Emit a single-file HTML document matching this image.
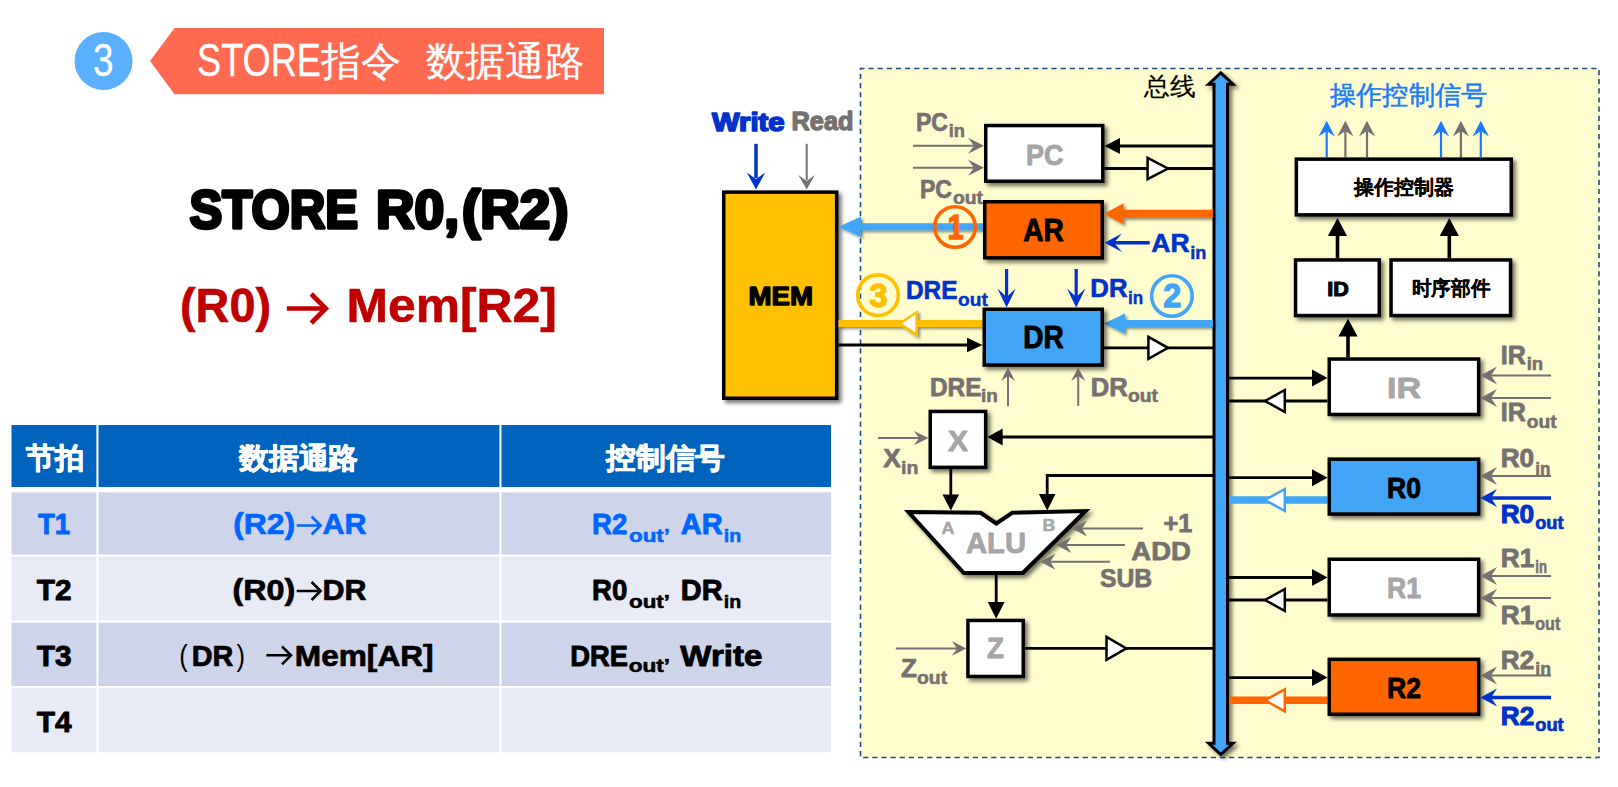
<!DOCTYPE html><html><head><meta charset="utf-8"><style>html,body{margin:0;padding:0;background:#fff;width:1618px;height:787px;overflow:hidden}svg{display:block}text{font-family:'Liberation Sans', sans-serif}</style></head><body>
<svg width="1618" height="787" viewBox="0 0 1618 787">
<defs><filter id="sh" x="-20%" y="-20%" width="150%" height="150%"><feDropShadow dx="3" dy="3" stdDeviation="2" flood-color="#000" flood-opacity="0.55"/></filter><filter id="sh2" x="-20%" y="-50%" width="150%" height="250%"><feDropShadow dx="2" dy="2" stdDeviation="1.5" flood-color="#000" flood-opacity="0.45"/></filter></defs>
<circle cx="103.5" cy="61" r="29" fill="#5AAFFF"/>
<text x="103.3" y="76.2" font-size="47" font-weight="normal" fill="#fff" text-anchor="middle" textLength="20.5" lengthAdjust="spacingAndGlyphs" stroke="#fff" stroke-width="0.3" stroke-linejoin="round" >3</text>
<polygon points="150.00,61.00 174.50,28.00 604.00,28.00 604.00,94.30 174.50,94.30" fill="#FF6A50" stroke="none" stroke-width="0" stroke-linejoin="miter" />
<text x="197" y="75.7" font-size="46.5" font-weight="normal" fill="#fff" text-anchor="start" textLength="124" lengthAdjust="spacingAndGlyphs" stroke="#fff" stroke-width="0.3" stroke-linejoin="round" >STORE</text>
<text x="321" y="74.6" font-size="40" font-weight="normal" fill="#fff" text-anchor="start" textLength="80" lengthAdjust="spacingAndGlyphs" stroke="#fff" stroke-width="0.25" stroke-linejoin="round" >指令</text>
<text x="425.7" y="74.6" font-size="40" font-weight="normal" fill="#fff" text-anchor="start" textLength="158.5" lengthAdjust="spacingAndGlyphs" stroke="#fff" stroke-width="0.25" stroke-linejoin="round" >数据通路</text>
<text x="189.5" y="228.4" font-size="53" font-weight="bold" fill="#000" text-anchor="start" textLength="168.5" lengthAdjust="spacingAndGlyphs" stroke="#000" stroke-width="3.4" stroke-linejoin="round" >STORE</text>
<text x="376" y="228.4" font-size="53" font-weight="bold" fill="#000" text-anchor="start" textLength="83" lengthAdjust="spacingAndGlyphs" stroke="#000" stroke-width="3.4" stroke-linejoin="round" >R0,</text>
<text x="462" y="228.4" font-size="53" font-weight="bold" fill="#000" text-anchor="start" textLength="106.5" lengthAdjust="spacingAndGlyphs" stroke="#000" stroke-width="3.4" stroke-linejoin="round" >(R2)</text>
<text x="180" y="321.9" font-size="48" font-weight="bold" fill="#C00000" text-anchor="start" textLength="91" lengthAdjust="spacingAndGlyphs" stroke="#C00000" stroke-width="0.6" stroke-linejoin="round" >(R0)</text>
<path d="M286.8,308.5 L323.04,308.5 M311.3,294.0 L325.8,308.5 L311.3,323.0" fill="none" stroke="#C00000" stroke-width="4.6" stroke-linejoin="miter" stroke-miterlimit="10"/>
<text x="346.5" y="321.9" font-size="48" font-weight="bold" fill="#C00000" text-anchor="start" textLength="210.3" lengthAdjust="spacingAndGlyphs" stroke="#C00000" stroke-width="0.6" stroke-linejoin="round" >Mem[R2]</text>
<rect x="11.5" y="425" width="819.5" height="62.0" fill="#0064BE"/>
<rect x="11.5" y="492.3" width="819.5" height="62.3" fill="#CED4EA"/>
<rect x="11.5" y="556.6" width="819.5" height="64.0" fill="#E8EAF5"/>
<rect x="11.5" y="622.6" width="819.5" height="63.4" fill="#CED4EA"/>
<rect x="11.5" y="688" width="819.5" height="64.3" fill="#E8EAF5"/>
<rect x="96.4" y="424" width="2.1" height="330" fill="#fff"/>
<rect x="499.4" y="424" width="2.1" height="330" fill="#fff"/>
<text x="25.8" y="468.3" font-size="29" font-weight="bold" fill="#fff" text-anchor="start" textLength="58" lengthAdjust="spacingAndGlyphs" stroke="#fff" stroke-width="0.87" stroke-linejoin="round" >节拍</text>
<text x="238.8" y="468.3" font-size="29" font-weight="bold" fill="#fff" text-anchor="start" textLength="119.5" lengthAdjust="spacingAndGlyphs" stroke="#fff" stroke-width="0.87" stroke-linejoin="round" >数据通路</text>
<text x="606.2" y="468.3" font-size="29" font-weight="bold" fill="#fff" text-anchor="start" textLength="118.7" lengthAdjust="spacingAndGlyphs" stroke="#fff" stroke-width="0.87" stroke-linejoin="round" >控制信号</text>
<text x="38" y="534.4" font-size="29.6" font-weight="bold" fill="#0066FF" text-anchor="start" textLength="32.2" lengthAdjust="spacingAndGlyphs" stroke="#0066FF" stroke-width="0.888" stroke-linejoin="round" >T1</text>
<text x="233.2" y="534.4" font-size="29.6" font-weight="bold" fill="#0066FF" text-anchor="start" textLength="62" lengthAdjust="spacingAndGlyphs" stroke="#0066FF" stroke-width="0.7" stroke-linejoin="round" >(R2)</text>
<path d="M296.7,525.5 L319.04,525.5 M311.6,516.5 L320.6,525.5 L311.6,534.5" fill="none" stroke="#0066FF" stroke-width="2.6" stroke-linejoin="miter" stroke-miterlimit="10"/>
<text x="322.5" y="534.4" font-size="29.6" font-weight="bold" fill="#0066FF" text-anchor="start" textLength="44" lengthAdjust="spacingAndGlyphs" stroke="#0066FF" stroke-width="0.7" stroke-linejoin="round" >AR</text>
<text x="592" y="533.9" font-size="29.6" font-weight="bold" fill="#0066FF" text-anchor="start" textLength="35.3" lengthAdjust="spacingAndGlyphs" stroke="#0066FF" stroke-width="0.888" stroke-linejoin="round" >R2</text>
<text x="629" y="541.7" font-size="19" font-weight="bold" fill="#0066FF" text-anchor="start" textLength="41" lengthAdjust="spacingAndGlyphs" stroke="#0066FF" stroke-width="0.57" stroke-linejoin="round" >out’</text>
<text x="680.7" y="533.9" font-size="29.6" font-weight="bold" fill="#0066FF" text-anchor="start" textLength="41.9" lengthAdjust="spacingAndGlyphs" stroke="#0066FF" stroke-width="0.888" stroke-linejoin="round" >AR</text>
<text x="723.7" y="541.7" font-size="19" font-weight="bold" fill="#0066FF" text-anchor="start" textLength="17.4" lengthAdjust="spacingAndGlyphs" stroke="#0066FF" stroke-width="0.57" stroke-linejoin="round" >in</text>
<text x="36.7" y="600" font-size="29.6" font-weight="bold" fill="#000" text-anchor="start" textLength="34.8" lengthAdjust="spacingAndGlyphs" stroke="#000" stroke-width="0.888" stroke-linejoin="round" >T2</text>
<text x="232.4" y="600" font-size="29.6" font-weight="bold" fill="#000" text-anchor="start" textLength="62.8" lengthAdjust="spacingAndGlyphs" stroke="#000" stroke-width="0.7" stroke-linejoin="round" >(R0)</text>
<path d="M296.7,591 L319.04,591 M311.6,582 L320.6,591 L311.6,600" fill="none" stroke="#000" stroke-width="2.6" stroke-linejoin="miter" stroke-miterlimit="10"/>
<text x="322.5" y="600" font-size="29.6" font-weight="bold" fill="#000" text-anchor="start" textLength="44" lengthAdjust="spacingAndGlyphs" stroke="#000" stroke-width="0.7" stroke-linejoin="round" >DR</text>
<text x="592" y="600" font-size="29.6" font-weight="bold" fill="#000" text-anchor="start" textLength="35.3" lengthAdjust="spacingAndGlyphs" stroke="#000" stroke-width="0.888" stroke-linejoin="round" >R0</text>
<text x="629" y="607.5" font-size="19" font-weight="bold" fill="#000" text-anchor="start" textLength="41" lengthAdjust="spacingAndGlyphs" stroke="#000" stroke-width="0.57" stroke-linejoin="round" >out’</text>
<text x="680.7" y="600" font-size="29.6" font-weight="bold" fill="#000" text-anchor="start" textLength="41.9" lengthAdjust="spacingAndGlyphs" stroke="#000" stroke-width="0.888" stroke-linejoin="round" >DR</text>
<text x="723.7" y="607.5" font-size="19" font-weight="bold" fill="#000" text-anchor="start" textLength="17.4" lengthAdjust="spacingAndGlyphs" stroke="#000" stroke-width="0.57" stroke-linejoin="round" >in</text>
<text x="36.7" y="666.2" font-size="29.6" font-weight="bold" fill="#000" text-anchor="start" textLength="34.9" lengthAdjust="spacingAndGlyphs" stroke="#000" stroke-width="0.888" stroke-linejoin="round" >T3</text>
<text x="179.3" y="666" font-size="29.6" font-weight="normal" fill="#000" text-anchor="start" textLength="8.5" lengthAdjust="spacingAndGlyphs" >(</text>
<text x="191.7" y="665.9" font-size="29.6" font-weight="bold" fill="#000" text-anchor="start" textLength="41.7" lengthAdjust="spacingAndGlyphs" stroke="#000" stroke-width="0.7" stroke-linejoin="round" >DR</text>
<text x="236.5" y="666" font-size="29.6" font-weight="normal" fill="#000" text-anchor="start" textLength="8.5" lengthAdjust="spacingAndGlyphs" >)</text>
<path d="M266.4,655.3 L289.44,655.3 M282,646.3 L291,655.3 L282,664.3" fill="none" stroke="#000" stroke-width="2.6" stroke-linejoin="miter" stroke-miterlimit="10"/>
<text x="294.8" y="665.9" font-size="29.6" font-weight="bold" fill="#000" text-anchor="start" textLength="138.8" lengthAdjust="spacingAndGlyphs" stroke="#000" stroke-width="0.7" stroke-linejoin="round" >Mem[AR]</text>
<text x="570.2" y="666" font-size="29.6" font-weight="bold" fill="#000" text-anchor="start" textLength="57.8" lengthAdjust="spacingAndGlyphs" stroke="#000" stroke-width="0.888" stroke-linejoin="round" >DRE</text>
<text x="628.7" y="672.1" font-size="19" font-weight="bold" fill="#000" text-anchor="start" textLength="41.4" lengthAdjust="spacingAndGlyphs" stroke="#000" stroke-width="0.57" stroke-linejoin="round" >out’</text>
<text x="680.3" y="666" font-size="29.6" font-weight="bold" fill="#000" text-anchor="start" textLength="82" lengthAdjust="spacingAndGlyphs" stroke="#000" stroke-width="0.888" stroke-linejoin="round" >Write</text>
<text x="36.7" y="732" font-size="29.6" font-weight="bold" fill="#000" text-anchor="start" textLength="34.9" lengthAdjust="spacingAndGlyphs" stroke="#000" stroke-width="0.888" stroke-linejoin="round" >T4</text>
<rect x="860.5" y="68.5" width="738.5" height="689" fill="#FFFDCD" stroke="#1F4E79" stroke-width="1.6" stroke-dasharray="5.2 3.95" stroke-dashoffset="1.2"/>
<rect x="723.75" y="192.15" width="112.90" height="206.10" fill="#FFC000" stroke="#000" stroke-width="3.5" filter="url(#sh)"/>
<text x="748.5" y="304.5" font-size="26.5" font-weight="bold" fill="#000" text-anchor="start" textLength="64.5" lengthAdjust="spacingAndGlyphs" stroke="#000" stroke-width="1.4" stroke-linejoin="round" >MEM</text>
<text x="712" y="131.3" font-size="26" font-weight="bold" fill="#0033CC" text-anchor="start" textLength="72.5" lengthAdjust="spacingAndGlyphs" stroke="#0033CC" stroke-width="1.7" stroke-linejoin="round" >Write</text>
<text x="791.5" y="130" font-size="26" font-weight="bold" fill="#767171" text-anchor="start" textLength="62" lengthAdjust="spacingAndGlyphs" stroke="#767171" stroke-width="1.3" stroke-linejoin="round" >Read</text>
<line x1="756" y1="143.8" x2="756" y2="178" stroke="#0033CC" stroke-width="3.5" />
<polygon points="756.00,189.60 746.80,172.60 756.00,179.00 765.20,172.60" fill="#0033CC" stroke="none" stroke-width="0" stroke-linejoin="miter" />
<line x1="806.7" y1="143.8" x2="806.7" y2="180" stroke="#767171" stroke-width="2" />
<polygon points="806.70,189.60 798.40,175.00 806.70,181.00 815.00,175.00" fill="#767171" stroke="none" stroke-width="0" stroke-linejoin="miter" />
<polygon points="1220.80,72.80 1233.00,84.20 1227.50,84.20 1227.50,743.30 1233.00,743.30 1220.80,754.50 1208.60,743.30 1214.00,743.30 1214.00,84.20 1208.60,84.20" fill="#42A5F5" stroke="#000" stroke-width="3" stroke-linejoin="miter" filter="url(#sh)"/>
<text x="1144" y="95" font-size="25" font-weight="normal" fill="#000" text-anchor="start" textLength="51.5" lengthAdjust="spacingAndGlyphs" stroke="#000" stroke-width="0.2" stroke-linejoin="round" >总线</text>
<rect x="985.75" y="125.55" width="117.00" height="55.70" fill="#fff" stroke="#000" stroke-width="3.5" filter="url(#sh)"/>
<text x="1026" y="165" font-size="29" font-weight="bold" fill="#A6A6A6" text-anchor="start" textLength="37.6" lengthAdjust="spacingAndGlyphs" stroke="#A6A6A6" stroke-width="0.87" stroke-linejoin="round" >PC</text>
<line x1="1120" y1="146" x2="1213" y2="146" stroke="#000" stroke-width="2.8" />
<polygon points="1104.50,146.00 1120.00,138.00 1120.00,154.00" fill="#000" stroke="none" stroke-width="0" stroke-linejoin="miter" />
<line x1="1104.5" y1="168.5" x2="1213" y2="168.5" stroke="#000" stroke-width="2.8" />
<polygon points="1147.60,157.80 1168.00,168.50 1147.60,179.20" fill="#fff" stroke="#000" stroke-width="2.5" stroke-linejoin="miter" />
<line x1="913" y1="145.7" x2="980" y2="145.7" stroke="#767171" stroke-width="2" />
<polygon points="984.00,145.70 968.00,137.70 974.00,145.70 968.00,153.70" fill="#767171" stroke="none" stroke-width="0" stroke-linejoin="miter" />
<line x1="913" y1="167.7" x2="980" y2="167.7" stroke="#767171" stroke-width="2" />
<polygon points="984.00,167.70 968.00,159.70 974.00,167.70 968.00,175.70" fill="#767171" stroke="none" stroke-width="0" stroke-linejoin="miter" />
<text x="915.9" y="130.5" font-size="25" font-weight="bold" fill="#767171" text-anchor="start" textLength="32" lengthAdjust="spacingAndGlyphs" stroke="#767171" stroke-width="0.75" stroke-linejoin="round" >PC</text>
<text x="948.8" y="137.2" font-size="18" font-weight="bold" fill="#767171" text-anchor="start" textLength="16.2" lengthAdjust="spacingAndGlyphs" stroke="#767171" stroke-width="0.54" stroke-linejoin="round" >in</text>
<text x="920" y="197.6" font-size="25" font-weight="bold" fill="#767171" text-anchor="start" textLength="32" lengthAdjust="spacingAndGlyphs" stroke="#767171" stroke-width="0.75" stroke-linejoin="round" >PC</text>
<text x="953" y="203.7" font-size="18" font-weight="bold" fill="#767171" text-anchor="start" textLength="30" lengthAdjust="spacingAndGlyphs" stroke="#767171" stroke-width="0.54" stroke-linejoin="round" >out</text>
<g filter="url(#sh2)">
<line x1="861" y1="226.7" x2="983" y2="226.7" stroke="#42A5F5" stroke-width="7" />
<polygon points="838.50,226.70 861.00,216.50 861.00,236.90" fill="#42A5F5" stroke="none" stroke-width="0" stroke-linejoin="miter" />
</g>
<rect x="984.75" y="201.75" width="117.50" height="56.10" fill="#FF6600" stroke="#000" stroke-width="3.5" filter="url(#sh)"/>
<text x="1043.6" y="241" font-size="30.5" font-weight="bold" fill="#000" text-anchor="middle" textLength="40.5" lengthAdjust="spacingAndGlyphs" stroke="#000" stroke-width="0.9149999999999999" stroke-linejoin="round" >AR</text>
<g filter="url(#sh2)">
<line x1="1123" y1="213.8" x2="1213" y2="213.8" stroke="#FF6600" stroke-width="8" />
<polygon points="1104.00,213.80 1123.60,203.20 1123.60,224.40" fill="#FF6600" stroke="none" stroke-width="0" stroke-linejoin="miter" />
</g>
<circle cx="955" cy="227" r="20.3" fill="none" stroke="#FF6600" stroke-width="3.6"/>
<text x="955.5" y="238.6" font-size="35" font-weight="bold" fill="#FF6600" text-anchor="middle" textLength="16" lengthAdjust="spacingAndGlyphs" stroke="#FF6600" stroke-width="1.3" stroke-linejoin="round" >1</text>
<line x1="1112" y1="242.8" x2="1149.7" y2="242.8" stroke="#0033CC" stroke-width="3.5" />
<polygon points="1104.60,242.80 1122.00,233.60 1114.00,242.80 1122.00,252.00" fill="#0033CC" stroke="none" stroke-width="0" stroke-linejoin="miter" />
<text x="1151.3" y="252" font-size="25" font-weight="bold" fill="#0033CC" text-anchor="start" textLength="38.3" lengthAdjust="spacingAndGlyphs" stroke="#0033CC" stroke-width="0.6" stroke-linejoin="round" >AR</text>
<text x="1190.2" y="258.7" font-size="18" font-weight="bold" fill="#0033CC" text-anchor="start" textLength="16.2" lengthAdjust="spacingAndGlyphs" stroke="#0033CC" stroke-width="0.4" stroke-linejoin="round" >in</text>
<line x1="1006.6" y1="269" x2="1006.6" y2="300" stroke="#0033CC" stroke-width="3.2" />
<polygon points="1006.60,307.50 997.40,288.50 1006.60,297.00 1015.80,288.50" fill="#0033CC" stroke="none" stroke-width="0" stroke-linejoin="miter" />
<line x1="1076.2" y1="269" x2="1076.2" y2="300" stroke="#0033CC" stroke-width="3.2" />
<polygon points="1076.20,307.50 1067.00,288.50 1076.20,297.00 1085.40,288.50" fill="#0033CC" stroke="none" stroke-width="0" stroke-linejoin="miter" />
<text x="905.9" y="298.7" font-size="25" font-weight="bold" fill="#0033CC" text-anchor="start" textLength="51.6" lengthAdjust="spacingAndGlyphs" stroke="#0033CC" stroke-width="0.6" stroke-linejoin="round" >DRE</text>
<text x="958.1" y="305.5" font-size="18" font-weight="bold" fill="#0033CC" text-anchor="start" textLength="29.7" lengthAdjust="spacingAndGlyphs" stroke="#0033CC" stroke-width="0.4" stroke-linejoin="round" >out</text>
<text x="1090.3" y="297.4" font-size="25" font-weight="bold" fill="#0033CC" text-anchor="start" textLength="37.2" lengthAdjust="spacingAndGlyphs" stroke="#0033CC" stroke-width="0.6" stroke-linejoin="round" >DR</text>
<text x="1128" y="303.6" font-size="18" font-weight="bold" fill="#0033CC" text-anchor="start" textLength="15.2" lengthAdjust="spacingAndGlyphs" stroke="#0033CC" stroke-width="0.4" stroke-linejoin="round" >in</text>
<circle cx="878" cy="295.2" r="20.3" fill="none" stroke="#FFC000" stroke-width="3.6"/>
<text x="878.5" y="306.8" font-size="34" font-weight="bold" fill="#FFC000" text-anchor="middle" textLength="18" lengthAdjust="spacingAndGlyphs" stroke="#FFC000" stroke-width="1.3" stroke-linejoin="round" >3</text>
<circle cx="1171.9" cy="296" r="20.3" fill="none" stroke="#42A5F5" stroke-width="3.6"/>
<text x="1172.3" y="307" font-size="34" font-weight="bold" fill="#42A5F5" text-anchor="middle" textLength="18" lengthAdjust="spacingAndGlyphs" stroke="#42A5F5" stroke-width="1.3" stroke-linejoin="round" >2</text>
<g filter="url(#sh2)">
<line x1="838.5" y1="323.6" x2="982.5" y2="323.6" stroke="#FFC000" stroke-width="7" />
<polygon points="916.60,312.30 900.00,323.60 916.60,334.90" fill="#fff" stroke="#FFC000" stroke-width="2.5" stroke-linejoin="miter" />
</g>
<g filter="url(#sh2)">
<line x1="1123" y1="323.6" x2="1213" y2="323.6" stroke="#42A5F5" stroke-width="7" />
<polygon points="1104.00,323.60 1125.00,313.40 1125.00,333.80" fill="#42A5F5" stroke="none" stroke-width="0" stroke-linejoin="miter" />
</g>
<line x1="838.5" y1="345" x2="968" y2="345" stroke="#000" stroke-width="2.8" />
<polygon points="982.50,345.00 967.00,337.70 967.00,352.30" fill="#000" stroke="none" stroke-width="0" stroke-linejoin="miter" />
<rect x="984.25" y="309.25" width="118.00" height="55.80" fill="#42A5F5" stroke="#000" stroke-width="3.5" filter="url(#sh)"/>
<text x="1043.6" y="348.3" font-size="30.5" font-weight="bold" fill="#000" text-anchor="middle" textLength="40.5" lengthAdjust="spacingAndGlyphs" stroke="#000" stroke-width="0.9149999999999999" stroke-linejoin="round" >DR</text>
<line x1="1104" y1="347.8" x2="1213" y2="347.8" stroke="#000" stroke-width="2.8" />
<polygon points="1148.40,336.80 1168.00,347.80 1148.40,358.80" fill="#fff" stroke="#000" stroke-width="2.5" stroke-linejoin="miter" />
<line x1="1008" y1="406" x2="1008" y2="376" stroke="#767171" stroke-width="2" />
<polygon points="1008.00,367.50 1001.00,381.00 1008.00,376.00 1015.00,381.00" fill="#767171" stroke="none" stroke-width="0" stroke-linejoin="miter" />
<line x1="1078.2" y1="406" x2="1078.2" y2="376" stroke="#767171" stroke-width="2" />
<polygon points="1078.20,367.50 1071.20,381.00 1078.20,376.00 1085.20,381.00" fill="#767171" stroke="none" stroke-width="0" stroke-linejoin="miter" />
<text x="930" y="395.5" font-size="25" font-weight="bold" fill="#767171" text-anchor="start" textLength="51.5" lengthAdjust="spacingAndGlyphs" stroke="#767171" stroke-width="0.75" stroke-linejoin="round" >DRE</text>
<text x="981" y="402" font-size="18" font-weight="bold" fill="#767171" text-anchor="start" textLength="16.8" lengthAdjust="spacingAndGlyphs" stroke="#767171" stroke-width="0.54" stroke-linejoin="round" >in</text>
<text x="1090.8" y="395.5" font-size="25" font-weight="bold" fill="#767171" text-anchor="start" textLength="37" lengthAdjust="spacingAndGlyphs" stroke="#767171" stroke-width="0.75" stroke-linejoin="round" >DR</text>
<text x="1128" y="402" font-size="18" font-weight="bold" fill="#767171" text-anchor="start" textLength="30" lengthAdjust="spacingAndGlyphs" stroke="#767171" stroke-width="0.54" stroke-linejoin="round" >out</text>
<rect x="930.25" y="411.45" width="55.40" height="55.90" fill="#fff" stroke="#000" stroke-width="3.5" filter="url(#sh)"/>
<text x="958" y="450.5" font-size="29" font-weight="bold" fill="#A6A6A6" text-anchor="middle" textLength="20" lengthAdjust="spacingAndGlyphs" stroke="#A6A6A6" stroke-width="0.87" stroke-linejoin="round" >X</text>
<line x1="1002" y1="437" x2="1213" y2="437" stroke="#000" stroke-width="2.8" />
<polygon points="987.40,437.00 1002.70,428.60 1002.70,445.40" fill="#000" stroke="none" stroke-width="0" stroke-linejoin="miter" />
<line x1="878" y1="438.1" x2="924" y2="438.1" stroke="#767171" stroke-width="2" />
<polygon points="928.50,438.10 914.00,431.00 919.00,438.10 914.00,445.20" fill="#767171" stroke="none" stroke-width="0" stroke-linejoin="miter" />
<text x="883.2" y="466.6" font-size="25" font-weight="bold" fill="#767171" text-anchor="start" textLength="17.5" lengthAdjust="spacingAndGlyphs" stroke="#767171" stroke-width="0.75" stroke-linejoin="round" >X</text>
<text x="901" y="473.7" font-size="18" font-weight="bold" fill="#767171" text-anchor="start" textLength="17.3" lengthAdjust="spacingAndGlyphs" stroke="#767171" stroke-width="0.54" stroke-linejoin="round" >in</text>
<polyline points="1213,475.5 1047.2,475.5 1047.2,495" fill="none" stroke="#000" stroke-width="2.8"/>
<polygon points="1047.20,510.60 1038.90,494.00 1055.50,494.00" fill="#000" stroke="none" stroke-width="0" stroke-linejoin="miter" />
<line x1="950.8" y1="469" x2="950.8" y2="495" stroke="#000" stroke-width="2.8" />
<polygon points="950.80,510.60 942.50,494.60 959.10,494.60" fill="#000" stroke="none" stroke-width="0" stroke-linejoin="miter" />
<polygon points="908.50,512.00 980.60,512.80 996.30,523.50 1012.30,512.80 1085.50,511.00 1022.80,573.00 963.80,573.00" fill="#fff" stroke="#000" stroke-width="4" stroke-linejoin="miter" filter="url(#sh)" stroke-linejoin="miter"/>
<text x="948" y="534" font-size="17" font-weight="bold" fill="#A6A6A6" text-anchor="middle" textLength="13" lengthAdjust="spacingAndGlyphs" stroke="#A6A6A6" stroke-width="0.51" stroke-linejoin="round" >A</text>
<text x="1049" y="531" font-size="17" font-weight="bold" fill="#A6A6A6" text-anchor="middle" textLength="12.8" lengthAdjust="spacingAndGlyphs" stroke="#A6A6A6" stroke-width="0.51" stroke-linejoin="round" >B</text>
<text x="996" y="553.3" font-size="30" font-weight="bold" fill="#A6A6A6" text-anchor="middle" textLength="60" lengthAdjust="spacingAndGlyphs" stroke="#A6A6A6" stroke-width="0.8999999999999999" stroke-linejoin="round" >ALU</text>
<line x1="1078" y1="528.4" x2="1143" y2="528.4" stroke="#767171" stroke-width="2" />
<polygon points="1072.00,528.40 1087.00,520.40 1082.00,528.40 1087.00,536.40" fill="#767171" stroke="none" stroke-width="0" stroke-linejoin="miter" />
<line x1="1062.3" y1="544.9" x2="1125" y2="544.9" stroke="#767171" stroke-width="2" />
<polygon points="1056.30,544.90 1071.30,536.90 1066.30,544.90 1071.30,552.90" fill="#767171" stroke="none" stroke-width="0" stroke-linejoin="miter" />
<line x1="1046.3" y1="561.7" x2="1110" y2="561.7" stroke="#767171" stroke-width="2" />
<polygon points="1040.30,561.70 1055.30,553.70 1050.30,561.70 1055.30,569.70" fill="#767171" stroke="none" stroke-width="0" stroke-linejoin="miter" />
<text x="1163.6" y="531.7" font-size="25" font-weight="bold" fill="#767171" text-anchor="start" textLength="28.7" lengthAdjust="spacingAndGlyphs" stroke="#767171" stroke-width="0.75" stroke-linejoin="round" >+1</text>
<text x="1131.3" y="559.6" font-size="25" font-weight="bold" fill="#767171" text-anchor="start" textLength="59.5" lengthAdjust="spacingAndGlyphs" stroke="#767171" stroke-width="0.75" stroke-linejoin="round" >ADD</text>
<text x="1100" y="586.8" font-size="25" font-weight="bold" fill="#767171" text-anchor="start" textLength="52.2" lengthAdjust="spacingAndGlyphs" stroke="#767171" stroke-width="0.75" stroke-linejoin="round" >SUB</text>
<line x1="996.2" y1="575" x2="996.2" y2="603" stroke="#000" stroke-width="2.8" />
<polygon points="996.20,618.70 987.80,602.00 1004.60,602.00" fill="#000" stroke="none" stroke-width="0" stroke-linejoin="miter" />
<rect x="967.95" y="620.45" width="55.30" height="56.00" fill="#fff" stroke="#000" stroke-width="3.5" filter="url(#sh)"/>
<text x="995.6" y="657.8" font-size="29" font-weight="bold" fill="#A6A6A6" text-anchor="middle" textLength="17" lengthAdjust="spacingAndGlyphs" stroke="#A6A6A6" stroke-width="0.87" stroke-linejoin="round" >Z</text>
<line x1="895.8" y1="648.4" x2="962" y2="648.4" stroke="#767171" stroke-width="2" />
<polygon points="966.20,648.40 952.00,641.00 957.00,648.40 952.00,655.80" fill="#767171" stroke="none" stroke-width="0" stroke-linejoin="miter" />
<text x="901" y="677.2" font-size="25" font-weight="bold" fill="#767171" text-anchor="start" textLength="16" lengthAdjust="spacingAndGlyphs" stroke="#767171" stroke-width="0.75" stroke-linejoin="round" >Z</text>
<text x="917" y="683.5" font-size="18" font-weight="bold" fill="#767171" text-anchor="start" textLength="30.2" lengthAdjust="spacingAndGlyphs" stroke="#767171" stroke-width="0.54" stroke-linejoin="round" >out</text>
<line x1="1025" y1="648.4" x2="1213" y2="648.4" stroke="#000" stroke-width="2.8" />
<polygon points="1106.50,636.90 1126.30,648.40 1106.50,659.90" fill="#fff" stroke="#000" stroke-width="2.5" stroke-linejoin="miter" />
<text x="1329.8" y="104" font-size="26" font-weight="normal" fill="#1A7BFF" text-anchor="start" textLength="157.5" lengthAdjust="spacingAndGlyphs" stroke="#1A7BFF" stroke-width="0.5" stroke-linejoin="round" >操作控制信号</text>
<line x1="1326.7" y1="157.4" x2="1326.7" y2="130" stroke="#1A7BFF" stroke-width="2.2" />
<polygon points="1326.70,120.80 1318.60,136.50 1326.70,131.00 1334.80,136.50" fill="#1A7BFF" stroke="none" stroke-width="0" stroke-linejoin="miter" />
<line x1="1345.4" y1="157.4" x2="1345.4" y2="130" stroke="#767171" stroke-width="2.2" />
<polygon points="1345.40,120.80 1337.30,136.50 1345.40,131.00 1353.50,136.50" fill="#767171" stroke="none" stroke-width="0" stroke-linejoin="miter" />
<line x1="1367" y1="157.4" x2="1367" y2="130" stroke="#767171" stroke-width="2.2" />
<polygon points="1367.00,120.80 1358.90,136.50 1367.00,131.00 1375.10,136.50" fill="#767171" stroke="none" stroke-width="0" stroke-linejoin="miter" />
<line x1="1441" y1="157.4" x2="1441" y2="130" stroke="#1A7BFF" stroke-width="2.2" />
<polygon points="1441.00,120.80 1432.90,136.50 1441.00,131.00 1449.10,136.50" fill="#1A7BFF" stroke="none" stroke-width="0" stroke-linejoin="miter" />
<line x1="1460.9" y1="157.4" x2="1460.9" y2="130" stroke="#767171" stroke-width="2.2" />
<polygon points="1460.90,120.80 1452.80,136.50 1460.90,131.00 1469.00,136.50" fill="#767171" stroke="none" stroke-width="0" stroke-linejoin="miter" />
<line x1="1480.8" y1="157.4" x2="1480.8" y2="130" stroke="#1A7BFF" stroke-width="2.2" />
<polygon points="1480.80,120.80 1472.70,136.50 1480.80,131.00 1488.90,136.50" fill="#1A7BFF" stroke="none" stroke-width="0" stroke-linejoin="miter" />
<rect x="1296.35" y="159.15" width="214.90" height="55.70" fill="#fff" stroke="#000" stroke-width="3.5" filter="url(#sh)"/>
<text x="1354" y="194" font-size="20" font-weight="bold" fill="#000" text-anchor="start" textLength="99.8" lengthAdjust="spacingAndGlyphs" stroke="#000" stroke-width="0.15" stroke-linejoin="round" >操作控制器</text>
<line x1="1337.5" y1="258.2" x2="1337.5" y2="235" stroke="#000" stroke-width="3.6" />
<polygon points="1337.50,218.00 1327.90,236.00 1347.10,236.00" fill="#000" stroke="none" stroke-width="0" stroke-linejoin="miter" />
<line x1="1449.3" y1="258.2" x2="1449.3" y2="235" stroke="#000" stroke-width="3.6" />
<polygon points="1449.30,218.00 1439.70,236.00 1458.90,236.00" fill="#000" stroke="none" stroke-width="0" stroke-linejoin="miter" />
<rect x="1295.55" y="259.95" width="83.70" height="55.60" fill="#fff" stroke="#000" stroke-width="3.5" filter="url(#sh)"/>
<text x="1327.3" y="296" font-size="20" font-weight="bold" fill="#000" text-anchor="start" textLength="21.5" lengthAdjust="spacingAndGlyphs" stroke="#000" stroke-width="1.1" stroke-linejoin="round" >ID</text>
<rect x="1391.05" y="259.95" width="119.50" height="55.60" fill="#fff" stroke="#000" stroke-width="3.5" filter="url(#sh)"/>
<text x="1411.7" y="295" font-size="20" font-weight="bold" fill="#000" text-anchor="start" textLength="78.7" lengthAdjust="spacingAndGlyphs" stroke="#000" stroke-width="0.15" stroke-linejoin="round" >时序部件</text>
<line x1="1348" y1="357.3" x2="1348" y2="335" stroke="#000" stroke-width="3.6" />
<polygon points="1348.00,318.70 1338.40,336.40 1357.60,336.40" fill="#000" stroke="none" stroke-width="0" stroke-linejoin="miter" />
<line x1="1229" y1="378.1" x2="1313" y2="378.1" stroke="#000" stroke-width="2.8" />
<polygon points="1327.50,378.10 1312.00,369.60 1312.00,386.60" fill="#000" stroke="none" stroke-width="0" stroke-linejoin="miter" />
<line x1="1229" y1="401" x2="1327.5" y2="401" stroke="#000" stroke-width="2.8" />
<polygon points="1284.80,390.00 1265.00,401.00 1284.80,412.00" fill="#fff" stroke="#000" stroke-width="2.5" stroke-linejoin="miter" />
<rect x="1329.25" y="359.05" width="149.40" height="55.40" fill="#fff" stroke="#000" stroke-width="3.5" filter="url(#sh)"/>
<text x="1404" y="397.8" font-size="29" font-weight="bold" fill="#A6A6A6" text-anchor="middle" textLength="34" lengthAdjust="spacingAndGlyphs" stroke="#A6A6A6" stroke-width="0.87" stroke-linejoin="round" >IR</text>
<line x1="1229" y1="477.7" x2="1313" y2="477.7" stroke="#000" stroke-width="2.8" />
<polygon points="1327.50,477.70 1312.00,469.20 1312.00,486.20" fill="#000" stroke="none" stroke-width="0" stroke-linejoin="miter" />
<line x1="1229" y1="500" x2="1327.5" y2="500" stroke="#42A5F5" stroke-width="7.6" />
<polygon points="1284.80,489.00 1265.00,500.00 1284.80,511.00" fill="#fff" stroke="#42A5F5" stroke-width="2.5" stroke-linejoin="miter" />
<rect x="1329.25" y="459.15" width="149.40" height="54.90" fill="#42A5F5" stroke="#000" stroke-width="3.5" filter="url(#sh)"/>
<text x="1404" y="497.9" font-size="29" font-weight="bold" fill="#000" text-anchor="middle" textLength="34" lengthAdjust="spacingAndGlyphs" stroke="#000" stroke-width="0.87" stroke-linejoin="round" >R0</text>
<line x1="1229" y1="577.5" x2="1313" y2="577.5" stroke="#000" stroke-width="2.8" />
<polygon points="1327.50,577.50 1312.00,569.00 1312.00,586.00" fill="#000" stroke="none" stroke-width="0" stroke-linejoin="miter" />
<line x1="1229" y1="600" x2="1327.5" y2="600" stroke="#000" stroke-width="2.8" />
<polygon points="1284.80,589.00 1265.00,600.00 1284.80,611.00" fill="#fff" stroke="#000" stroke-width="2.5" stroke-linejoin="miter" />
<rect x="1329.25" y="559.25" width="149.40" height="55.70" fill="#fff" stroke="#000" stroke-width="3.5" filter="url(#sh)"/>
<text x="1404" y="598.0" font-size="29" font-weight="bold" fill="#A6A6A6" text-anchor="middle" textLength="34" lengthAdjust="spacingAndGlyphs" stroke="#A6A6A6" stroke-width="0.87" stroke-linejoin="round" >R1</text>
<line x1="1229" y1="677.6" x2="1313" y2="677.6" stroke="#000" stroke-width="2.8" />
<polygon points="1327.50,677.60 1312.00,669.10 1312.00,686.10" fill="#000" stroke="none" stroke-width="0" stroke-linejoin="miter" />
<line x1="1229" y1="700.3" x2="1327.5" y2="700.3" stroke="#FF6600" stroke-width="7.6" />
<polygon points="1284.80,689.30 1265.00,700.30 1284.80,711.30" fill="#fff" stroke="#FF6600" stroke-width="2.5" stroke-linejoin="miter" />
<rect x="1329.25" y="659.35" width="149.40" height="54.90" fill="#FF6600" stroke="#000" stroke-width="3.5" filter="url(#sh)"/>
<text x="1404" y="698.1" font-size="29" font-weight="bold" fill="#000" text-anchor="middle" textLength="34" lengthAdjust="spacingAndGlyphs" stroke="#000" stroke-width="0.87" stroke-linejoin="round" >R2</text>
<text x="1500.7" y="364.1" font-size="25" font-weight="bold" fill="#767171" text-anchor="start" textLength="25" lengthAdjust="spacingAndGlyphs" stroke="#767171" stroke-width="0.8" stroke-linejoin="round" >IR</text>
<text x="1526.7" y="370" font-size="18" font-weight="bold" fill="#767171" text-anchor="start" textLength="16.5" lengthAdjust="spacingAndGlyphs" stroke="#767171" stroke-width="0.5599999999999999" stroke-linejoin="round" >in</text>
<text x="1500.7" y="420.8" font-size="25" font-weight="bold" fill="#767171" text-anchor="start" textLength="25" lengthAdjust="spacingAndGlyphs" stroke="#767171" stroke-width="0.8" stroke-linejoin="round" >IR</text>
<text x="1526.7" y="427.7" font-size="18" font-weight="bold" fill="#767171" text-anchor="start" textLength="29.899999999999864" lengthAdjust="spacingAndGlyphs" stroke="#767171" stroke-width="0.5599999999999999" stroke-linejoin="round" >out</text>
<text x="1500.7" y="467" font-size="25" font-weight="bold" fill="#767171" text-anchor="start" textLength="33.5" lengthAdjust="spacingAndGlyphs" stroke="#767171" stroke-width="0.8" stroke-linejoin="round" >R0</text>
<text x="1535.2" y="474.7" font-size="18" font-weight="bold" fill="#767171" text-anchor="start" textLength="15.099999999999909" lengthAdjust="spacingAndGlyphs" stroke="#767171" stroke-width="0.5599999999999999" stroke-linejoin="round" >in</text>
<text x="1500.7" y="523" font-size="25" font-weight="bold" fill="#0033CC" text-anchor="start" textLength="33.5" lengthAdjust="spacingAndGlyphs" stroke="#0033CC" stroke-width="1.0" stroke-linejoin="round" >R0</text>
<text x="1535.2" y="529.3" font-size="18" font-weight="bold" fill="#0033CC" text-anchor="start" textLength="28.299999999999955" lengthAdjust="spacingAndGlyphs" stroke="#0033CC" stroke-width="0.7" stroke-linejoin="round" >out</text>
<text x="1500.8" y="567.4" font-size="25" font-weight="bold" fill="#767171" text-anchor="start" textLength="33.5" lengthAdjust="spacingAndGlyphs" stroke="#767171" stroke-width="0.8" stroke-linejoin="round" >R1</text>
<text x="1535.3" y="573.2" font-size="18" font-weight="bold" fill="#767171" text-anchor="start" textLength="11.700000000000045" lengthAdjust="spacingAndGlyphs" stroke="#767171" stroke-width="0.5599999999999999" stroke-linejoin="round" >in</text>
<text x="1500.8" y="624" font-size="25" font-weight="bold" fill="#767171" text-anchor="start" textLength="33.5" lengthAdjust="spacingAndGlyphs" stroke="#767171" stroke-width="0.8" stroke-linejoin="round" >R1</text>
<text x="1535.3" y="630" font-size="18" font-weight="bold" fill="#767171" text-anchor="start" textLength="25.0" lengthAdjust="spacingAndGlyphs" stroke="#767171" stroke-width="0.5599999999999999" stroke-linejoin="round" >out</text>
<text x="1500.8" y="668.8" font-size="25" font-weight="bold" fill="#767171" text-anchor="start" textLength="33.5" lengthAdjust="spacingAndGlyphs" stroke="#767171" stroke-width="0.8" stroke-linejoin="round" >R2</text>
<text x="1535.3" y="675" font-size="18" font-weight="bold" fill="#767171" text-anchor="start" textLength="15.700000000000045" lengthAdjust="spacingAndGlyphs" stroke="#767171" stroke-width="0.5599999999999999" stroke-linejoin="round" >in</text>
<text x="1500.8" y="724.8" font-size="25" font-weight="bold" fill="#0033CC" text-anchor="start" textLength="33.5" lengthAdjust="spacingAndGlyphs" stroke="#0033CC" stroke-width="1.0" stroke-linejoin="round" >R2</text>
<text x="1535.3" y="731" font-size="18" font-weight="bold" fill="#0033CC" text-anchor="start" textLength="28.40000000000009" lengthAdjust="spacingAndGlyphs" stroke="#0033CC" stroke-width="0.7" stroke-linejoin="round" >out</text>
<line x1="1486" y1="375.6" x2="1551" y2="375.6" stroke="#767171" stroke-width="2" />
<polygon points="1480.40,375.60 1497.00,366.60 1491.00,375.60 1497.00,384.60" fill="#767171" stroke="none" stroke-width="0" stroke-linejoin="miter" />
<line x1="1486" y1="398" x2="1551" y2="398" stroke="#767171" stroke-width="2" />
<polygon points="1480.40,398.00 1497.00,389.00 1491.00,398.00 1497.00,407.00" fill="#767171" stroke="none" stroke-width="0" stroke-linejoin="miter" />
<line x1="1486" y1="476" x2="1551" y2="476" stroke="#767171" stroke-width="2" />
<polygon points="1480.40,476.00 1497.00,467.00 1491.00,476.00 1497.00,485.00" fill="#767171" stroke="none" stroke-width="0" stroke-linejoin="miter" />
<line x1="1486" y1="498" x2="1551" y2="498" stroke="#0033CC" stroke-width="3.5" />
<polygon points="1480.40,498.00 1497.00,489.00 1491.00,498.00 1497.00,507.00" fill="#0033CC" stroke="none" stroke-width="0" stroke-linejoin="miter" />
<line x1="1486" y1="575.9" x2="1551" y2="575.9" stroke="#767171" stroke-width="2" />
<polygon points="1480.40,575.90 1497.00,566.90 1491.00,575.90 1497.00,584.90" fill="#767171" stroke="none" stroke-width="0" stroke-linejoin="miter" />
<line x1="1486" y1="598" x2="1551" y2="598" stroke="#767171" stroke-width="2" />
<polygon points="1480.40,598.00 1497.00,589.00 1491.00,598.00 1497.00,607.00" fill="#767171" stroke="none" stroke-width="0" stroke-linejoin="miter" />
<line x1="1486" y1="675.4" x2="1551" y2="675.4" stroke="#767171" stroke-width="2" />
<polygon points="1480.40,675.40 1497.00,666.40 1491.00,675.40 1497.00,684.40" fill="#767171" stroke="none" stroke-width="0" stroke-linejoin="miter" />
<line x1="1486" y1="697.6" x2="1551" y2="697.6" stroke="#0033CC" stroke-width="3.5" />
<polygon points="1480.40,697.60 1497.00,688.60 1491.00,697.60 1497.00,706.60" fill="#0033CC" stroke="none" stroke-width="0" stroke-linejoin="miter" />
</svg></body></html>
